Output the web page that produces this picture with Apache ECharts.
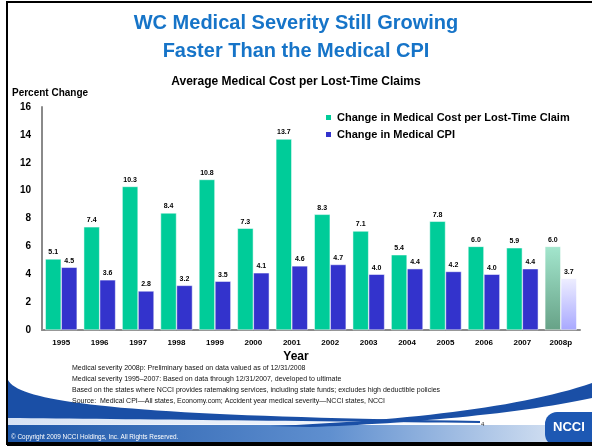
<!DOCTYPE html>
<html>
<head>
<meta charset="utf-8">
<script src="https://cdn.jsdelivr.net/npm/echarts@6/dist/echarts.min.js"></script>
<style>
  html, body { margin: 0; padding: 0; background: #fff; }
  #chart { width: 592px; height: 446px; }
</style>
</head>
<body>
<div id="chart"></div>
<script>
  // values
  const years = ['1995', '1996', '1997', '1998', '1999', '2000', '2001', '2002', '2003', '2004', '2005', '2006', '2007', '2008p'];
  const medicalCost = [5.1, 7.4, 10.3, 8.4, 10.8, 7.3, 13.7, 8.3, 7.1, 5.4, 7.8, 6.0, 5.9, 6.0];
  const medicalCpi = [4.5, 3.6, 2.8, 3.2, 3.5, 4.1, 4.6, 4.7, 4.0, 4.4, 4.2, 4.0, 4.4, 3.7];
  const yTicks = [0, 2, 4, 6, 8, 10, 12, 14, 16];

  const footnotes = [
    'Medical severity 2008p: Preliminary based on data valued as of 12/31/2008',
    'Medical severity 1995\u20132007: Based on data through 12/31/2007, developed to ultimate',
    'Based on the states where NCCI provides ratemaking services, including state funds; excludes high deductible policies',
    'Source:  Medical CPI\u2014All states, Economy.com; Accident year medical severity\u2014NCCI states, NCCI'
  ];

  const FONT = 'Arial, "Liberation Sans", sans-serif';
  const green = '#00CC99';
  const blue = '#3333CC';

  const grad = (top, bottom, horiz) => ({
    type: 'linear', x: 0, y: 0, x2: horiz ? 1 : 0, y2: horiz ? 0 : 1,
    colorStops: [{ offset: 0, color: top }, { offset: 1, color: bottom }]
  });

  // sample a cubic bezier for the decorative swooshes at the bottom of the slide
  function curve(p0, p1, p2, p3, n) {
    const pts = [];
    for (let i = 0; i <= n; i++) {
      const t = i / n, u = 1 - t;
      pts.push([
        u * u * u * p0[0] + 3 * u * u * t * p1[0] + 3 * u * t * t * p2[0] + t * t * t * p3[0],
        u * u * u * p0[1] + 3 * u * u * t * p1[1] + 3 * u * t * t * p2[1] + t * t * t * p3[1]
      ]);
    }
    return pts;
  }

  // last year is preliminary, drawn faded
  const costData = medicalCost.map((v, i) => i === years.length - 1
    ? { value: v, itemStyle: { color: grad('#A3E6CD', '#67A287') } } : v);
  const cpiData = medicalCpi.map((v, i) => i === years.length - 1
    ? { value: v, itemStyle: { color: grad('#EEEEFF', '#A8A8FF') } } : v);

  const label = {
    show: true,
    position: 'top',
    distance: 3,
    fontFamily: FONT,
    fontWeight: 'bold',
    fontSize: 7,
    color: '#000',
    formatter: p => p.value.toFixed(1)
  };

  const footText = footnotes.map((t, i) => ({
    type: 'text', left: 72, top: 365 + i * 10.7,
    style: { text: t, font: '7px ' + FONT, fill: '#111' }
  }));

  const leftSwoosh = curve([8, 380], [20, 404], [140, 416], [480, 421], 40)
    .concat(curve([480, 423], [300, 421], [120, 419], [8, 418], 30));
  const lightBand = curve([8, 416], [150, 418], [300, 421], [480, 424], 30).concat([[8, 425]]);
  const rightSwoosh = curve([270, 426], [400, 421], [520, 408], [592, 383], 30)
    .concat(curve([592, 398], [520, 414], [400, 424], [310, 427], 30));

  const chart = echarts.init(document.getElementById('chart'));
  chart.setOption({
    animation: false,
    grid: { left: 42, right: 12, top: 107, bottom: 116 },
    legend: {
      orient: 'vertical',
      left: 319,
      top: 107,
      itemWidth: 7,
      itemHeight: 7,
      itemGap: 6,
      icon: 'rect',
      textStyle: { fontFamily: FONT, fontWeight: 'bold', fontSize: 11, color: '#000' },
      data: ['Change in Medical Cost per Lost-Time Claim', 'Change in Medical CPI']
    },
    xAxis: {
      type: 'category',
      data: years,
      axisLine: { lineStyle: { color: '#8a8a8a', width: 2 } },
      axisTick: { show: false },
      axisLabel: { margin: 9, fontFamily: FONT, fontWeight: 'bold', fontSize: 8, color: '#000' }
    },
    yAxis: {
      type: 'value',
      min: yTicks[0],
      max: yTicks[yTicks.length - 1],
      interval: 2,
      axisLine: { show: true, lineStyle: { color: '#8a8a8a', width: 2 } },
      axisTick: { show: false },
      splitLine: { show: false },
      axisLabel: { margin: 11, fontFamily: FONT, fontWeight: 'bold', fontSize: 10, color: '#000' }
    },
    series: [
      {
        name: 'Change in Medical Cost per Lost-Time Claim',
        type: 'bar',
        data: costData,
        barGap: '0%',
        barCategoryGap: '17%',
        itemStyle: { color: green, borderColor: '#fff', borderWidth: 0.5 },
        label: label
      },
      {
        name: 'Change in Medical CPI',
        type: 'bar',
        data: cpiData,
        itemStyle: { color: blue, borderColor: '#fff', borderWidth: 0.5 },
        label: label
      }
    ],
    graphic: [
      { type: 'polygon', z: -10, shape: { points: lightBand }, style: { fill: grad('#d6e2f4', '#ffffff', true) } },
      { type: 'polygon', z: -9, shape: { points: leftSwoosh }, style: { fill: '#1a4fa6' } },
      {
        type: 'rect', z: -9,
        shape: { x: 8, y: 425, width: 584, height: 17 },
        style: { fill: {
          type: 'linear', x: 0, y: 0, x2: 1, y2: 0,
          colorStops: [{ offset: 0, color: '#1d56a8' }, { offset: 0.55, color: '#5f8fcf' }, { offset: 1, color: '#e4ecf7' }]
        } }
      },
      { type: 'polygon', z: -8, shape: { points: rightSwoosh }, style: { fill: '#1a4fa6' } },
      {
        type: 'rect', z: -7,
        shape: { x: 545, y: 412, width: 60, height: 34, r: 12 },
        style: { fill: '#1d58b3' }
      },
      {
        type: 'text', z: 5, left: 553, top: 421,
        style: { text: 'NCCI', font: 'bold 13px ' + FONT, fill: '#fff' }
      },
      {
        type: 'text', left: 481, top: 421,
        style: { text: '4', font: '6px ' + FONT, fill: '#333' }
      },
      {
        type: 'text', left: 11, top: 434,
        style: { text: '\u00a9 Copyright 2009 NCCI Holdings, Inc. All Rights Reserved.', font: '6.4px ' + FONT, fill: '#fff' }
      },
      // slide frame
      { type: 'rect', shape: { x: 7, y: 2, width: 590, height: 442 }, style: { fill: 'none', stroke: '#000', lineWidth: 2 } },
      { type: 'rect', shape: { x: 7, y: 442, width: 585, height: 4 }, style: { fill: '#000' } },
      // titles
      {
        type: 'text', left: 'center', top: 13,
        style: { text: 'WC Medical Severity Still Growing', font: 'bold 20px ' + FONT, fill: '#1674C8' }
      },
      {
        type: 'text', left: 'center', top: 41,
        style: { text: 'Faster Than the Medical CPI', font: 'bold 20px ' + FONT, fill: '#1674C8' }
      },
      {
        type: 'text', left: 'center', top: 76,
        style: { text: 'Average Medical Cost per Lost-Time Claims', font: 'bold 12px ' + FONT, fill: '#000' }
      },
      {
        type: 'text', left: 12, top: 88,
        style: { text: 'Percent Change', font: 'bold 10px ' + FONT, fill: '#000' }
      },
      {
        type: 'text', left: 'center', top: 351,
        style: { text: 'Year', font: 'bold 12px ' + FONT, fill: '#000' }
      }
    ].concat(footText)
  });
</script>
</body>
</html>
